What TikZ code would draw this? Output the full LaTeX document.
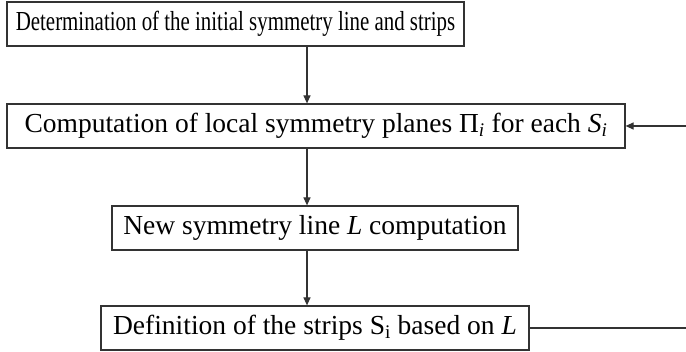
\documentclass[tikz,border=0pt]{standalone}
\usepackage{fontspec}
\setmainfont{Liberation Serif}
\usepackage{tikz}
\usetikzlibrary{arrows.meta}

\begin{document}
\begin{tikzpicture}[x=1pt,y=1pt,
stepbox/.style={draw=black!80,line width=1.2pt,minimum height=44pt,inner sep=0pt,font=\fontsize{27.5}{31}\selectfont},
flow/.style={draw=black!80,line width=1.2pt},
arr/.style={flow,-{Triangle[length=8pt,width=7pt]}}
]
\useasboundingbox (0,0) rectangle (686,-352);

% The boxes
\node[stepbox,minimum width=457pt] (init) at (235.5,-24) {\scalebox{0.76}[1]{Determination of the initial symmetry line and strips}};
\node[stepbox,minimum width=618pt] (planes) at (316,-126) {Computation of local symmetry planes Π\textsubscript{\textit{i}} for each \textit{S}\textsubscript{\textit{i}}};
\node[stepbox,minimum width=406pt] (newline) at (315,-228) {New symmetry line \textit{L} computation};
\node[stepbox,minimum width=428pt] (strips) at (315,-328) {Definition of the strips S\textsubscript{i} based on \textit{L}};

% The arrows
\coordinate (spine) at (307,0);
\draw[arr] (spine |- init.south) -- (spine |- planes.north);
\draw[arr] (spine |- planes.south) -- (spine |- newline.north);
\draw[arr] (spine |- newline.south) -- (spine |- strips.north);

% The loop back
\coordinate (loopin) at (686,-126);
\coordinate (loopout) at (686,-328);
\draw[arr] (loopin) -- (planes.east);
\draw[flow] (strips.east) -- (loopout);
\end{tikzpicture}
\end{document}
